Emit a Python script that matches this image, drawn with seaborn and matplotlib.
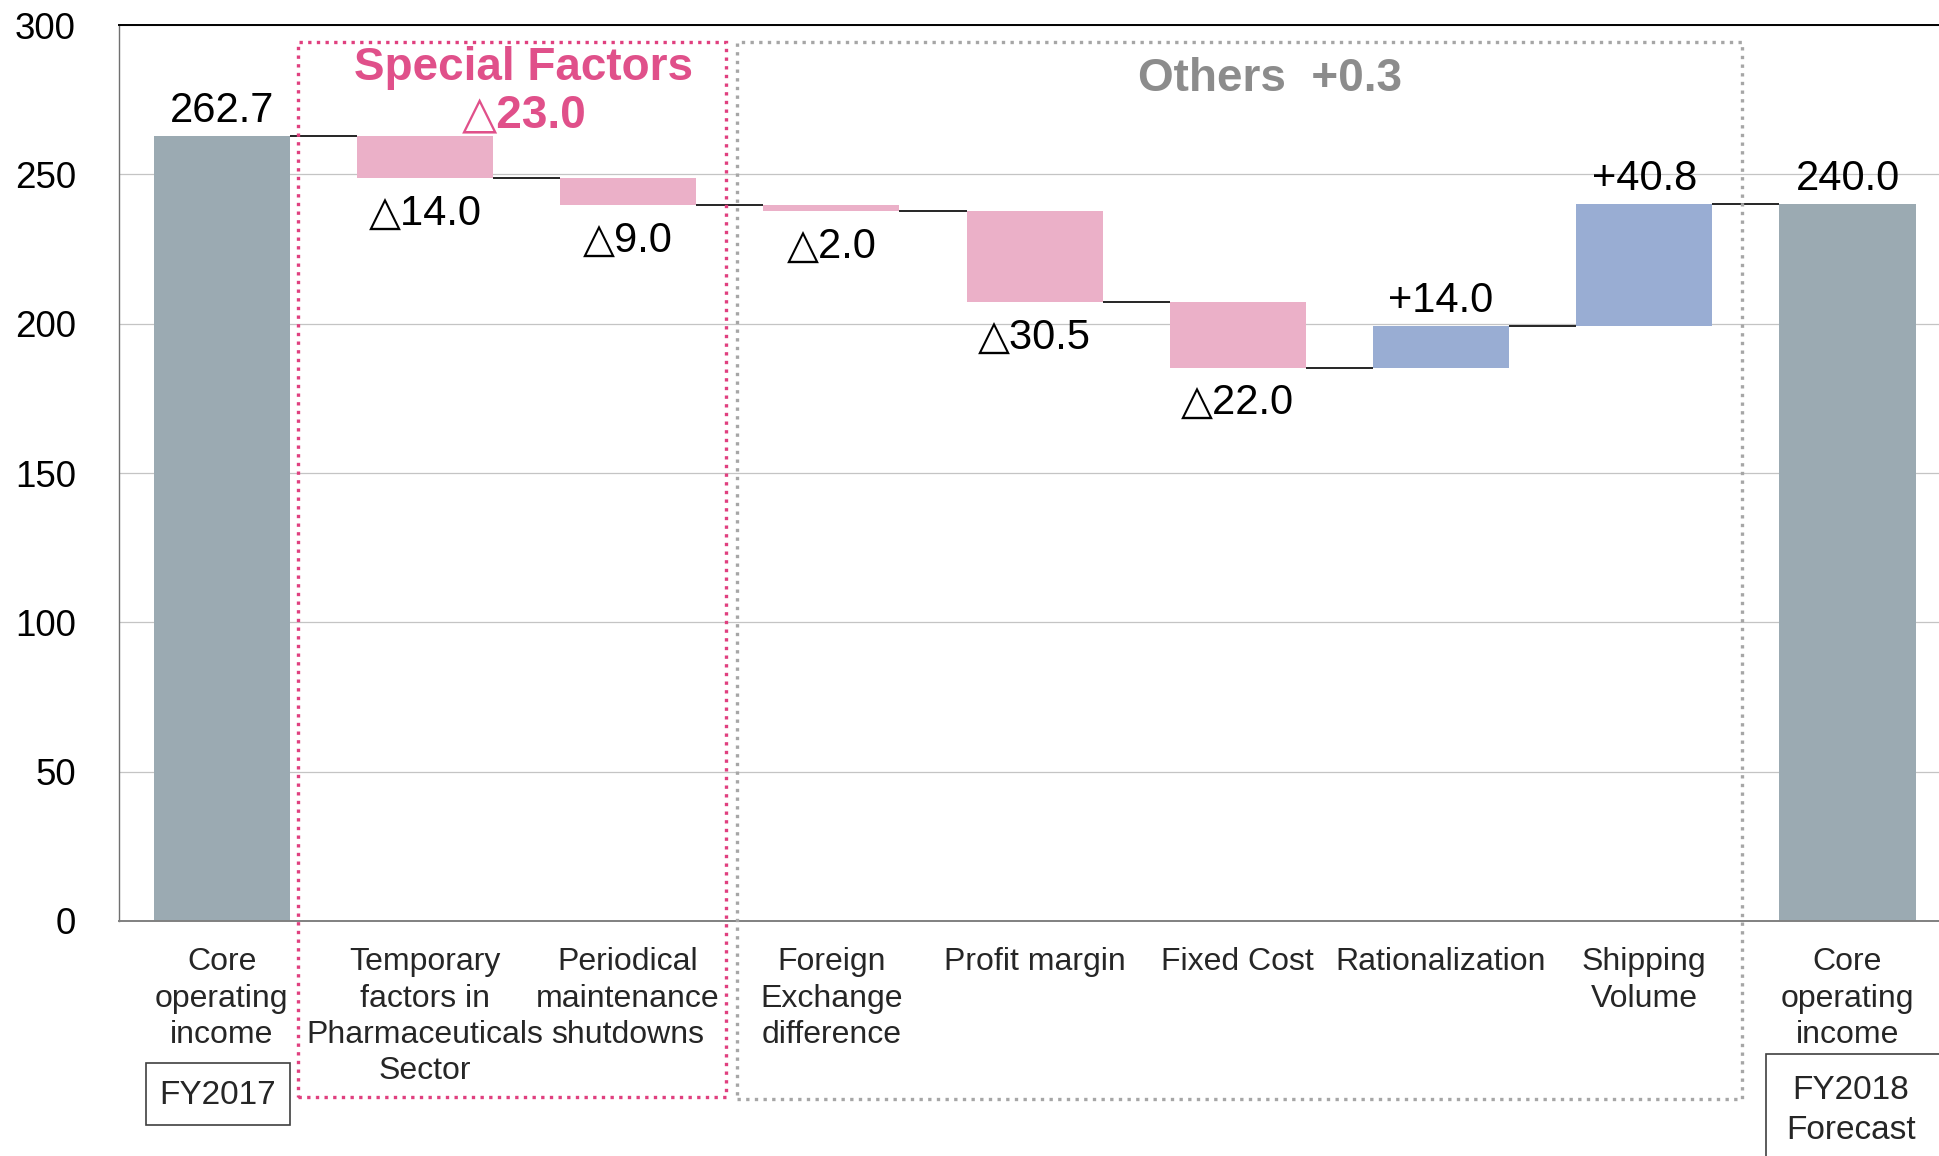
import numpy as np
import pandas as pd
import matplotlib
matplotlib.use("Agg")
import matplotlib.pyplot as plt
import seaborn as sns
from matplotlib.patches import Rectangle

# ---------------- data ----------------
categories = ["Core operating income FY2017", "Temporary factors", "Periodical maintenance",
              "Foreign Exchange difference", "Profit margin", "Fixed Cost",
              "Rationalization", "Shipping Volume", "Core operating income FY2018"]
tick_labels = ["Core\noperating\nincome", "Temporary\nfactors in\nPharmaceuticals\nSector",
               "Periodical\nmaintenance\nshutdowns", "Foreign\nExchange\ndifference",
               "Profit margin", "Fixed Cost", "Rationalization", "Shipping\nVolume",
               "Core\noperating\nincome"]
values = [262.7, -14.0, -9.0, -2.0, -30.5, -22.0, 14.0, 40.8, 240.0]
kinds = ["total", "change", "change", "change", "change", "change", "change", "change", "total"]
special_label = ["Special Factors", "△23.0"]
others_label = "Others  +0.3"
period_labels = ["FY2017", "FY2018\nForecast"]

# ---------------- derived waterfall geometry ----------------
bottoms, heights, levels = [], [], []
cum = 0.0
for v, k in zip(values, kinds):
    if k == "total":
        bottoms.append(0.0)
        heights.append(v)
        cum = v
    else:
        new = cum + v
        bottoms.append(min(cum, new))
        heights.append(abs(v))
        cum = new
    levels.append(cum)

def fmt(v, k):
    if k == "total":
        return f"{v:.1f}"
    return f"+{v:.1f}" if v > 0 else f"△{abs(v):.1f}"

df = pd.DataFrame({"category": categories, "height": heights})

GRAY = "#9BAAB2"
PINK = "#EBB0C8"
BLUE = "#99ADD3"
colors = [GRAY if k == "total" else (PINK if v < 0 else BLUE) for v, k in zip(values, kinds)]

# ---------------- figure ----------------
sns.set_theme(style="white")
plt.rcParams["font.family"] = ["Liberation Sans", "DejaVu Sans"]

fig = plt.figure(figsize=(19.39, 11.56), dpi=100)
ax = fig.add_axes([0.0614, 0.2033, 0.9386, 0.775])

W = 0.67
sns.barplot(data=df, x="category", y="height", order=categories, bottom=bottoms,
            width=W, color=GRAY, saturation=1, ax=ax, zorder=2)
for p, c in zip(ax.patches, colors):
    p.set_facecolor(c)
    p.set_edgecolor("none")

ax.set_ylim(0, 300)
ax.set_xlim(-0.505, 8.45)
ax.set_yticks(np.arange(0, 301, 50))
ax.tick_params(axis="y", labelsize=26.5, length=0, pad=31)
ax.set_xticks(range(len(categories)))
ax.set_xticklabels(tick_labels, fontsize=23, linespacing=1.27, va="top")
ax.tick_params(axis="x", length=0, pad=19)
ax.set_xlabel("")
ax.set_ylabel("")
ax.yaxis.grid(True, color="#C4C4C4", lw=0.9)
ax.set_axisbelow(True)
for lbl in ax.get_yticklabels():
    lbl.set_color("black")

ax.spines["right"].set_visible(False)
ax.spines["top"].set_color("black")
ax.spines["top"].set_linewidth(1.4)
ax.spines["left"].set_color("#707070")
ax.spines["left"].set_linewidth(1.0)
ax.spines["bottom"].set_color("#808080")
ax.spines["bottom"].set_linewidth(1.4)

# connectors
for i in range(len(values) - 1):
    ax.hlines(levels[i], i + W / 2, i + 1 - W / 2, color="black", lw=1.2, zorder=3)

# value labels
for i, (v, k) in enumerate(zip(values, kinds)):
    top = bottoms[i] + heights[i]
    if k == "total" or v > 0:
        ax.annotate(fmt(v, k), (i, top), xytext=(0, 4), textcoords="offset points",
                    ha="center", va="bottom", fontsize=30, color="black")
    else:
        ax.annotate(fmt(v, k), (i, bottoms[i]), xytext=(0, -11), textcoords="offset points",
                    ha="center", va="top", fontsize=30, color="black")

# group frames
ax.add_patch(Rectangle((0.377, -58.8), 2.48 - 0.377, 294.4 + 58.8, fill=False,
                       edgecolor="#E0407F", lw=2.4, ls=(0, (1, 1.6)), clip_on=False, zorder=4))
ax.add_patch(Rectangle((2.537, -59.6), 7.48 - 2.537, 294.4 + 59.6, fill=False,
                       edgecolor="#A6A6A6", lw=2.4, ls=(0, (1, 1.6)), clip_on=False, zorder=4))

ax.text(1.484, 285.6, special_label[0], ha="center", va="center", fontsize=33,
        fontweight="bold", color="#E0508A", zorder=5)
ax.text(1.49, 269.8, special_label[1], ha="center", va="center", fontsize=33,
        fontweight="bold", color="#E0508A", zorder=5)
ax.text(5.158, 281.8, others_label, ha="center", va="center", fontsize=33,
        fontweight="bold", color="#8C8C8C", zorder=5)

# period boxes
ax.add_patch(Rectangle((-0.371, -68.3), 0.706, 20.7, fill=False, edgecolor="#404040",
                       lw=1.2, clip_on=False))
ax.text(-0.02, -58.6, period_labels[0], ha="center", va="center", fontsize=24, clip_on=False)
ax.add_patch(Rectangle((7.597, -95), 1.2, 50.3, fill=False, edgecolor="#404040",
                       lw=1.2, clip_on=False))
ax.text(8.017, -63.5, period_labels[1], ha="center", va="center", fontsize=24,
        linespacing=1.4, clip_on=False)

fig.savefig("out.png", dpi=100)
